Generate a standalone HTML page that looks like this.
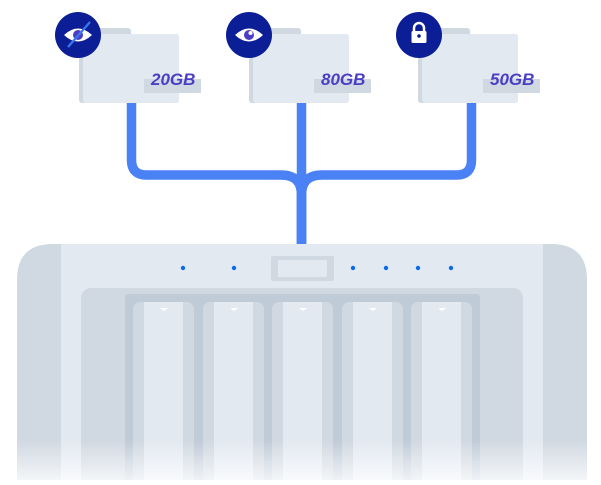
<!DOCTYPE html>
<html><head><style>
html,body{margin:0;padding:0;background:#fff;}
body{width:601px;height:480px;overflow:hidden;position:relative;font-family:"Liberation Sans",sans-serif;}
</style></head><body>
<svg width="601" height="480" viewBox="0 0 601 480" xmlns="http://www.w3.org/2000/svg">
<defs>
<linearGradient id="fade" x1="0" y1="0" x2="0" y2="1">
<stop offset="0" stop-color="#fff" stop-opacity="0"/>
<stop offset="1" stop-color="#fff" stop-opacity="0.75"/>
</linearGradient>
</defs>
<g fill="none" stroke="#4a82f5" stroke-width="9.5">
<path d="M131.5,100 V160 Q131.5,175 146.5,175 H281 Q301.5,175 301.5,195 V246"/>
<path d="M471.5,100 V160 Q471.5,175 456.5,175 H322 Q301.5,175 301.5,195 V246"/>
<path d="M301.5,100 V246"/>
</g>
<path d="M17,280 Q17,244 53,244 H551 Q587,244 587,280 V480 H17 Z" fill="#d0d8e1"/>
<rect x="61" y="244" width="482" height="236" fill="#e3e9f1"/>
<rect x="81" y="288" width="442" height="200" rx="10" fill="#d0d8e1"/>
<rect x="125" y="294" width="355" height="190" rx="3" fill="#c0cbd8"/>
<g fill="#d0d8e1">
<rect x="133" y="302" width="61" height="190" rx="7"/>
<rect x="203" y="302" width="61" height="190" rx="7"/>
<rect x="272" y="302" width="61" height="190" rx="7"/>
<rect x="342" y="302" width="61" height="190" rx="7"/>
<rect x="411" y="302" width="61" height="190" rx="7"/>
</g>
<g fill="#e3e9f1">
<rect x="144" y="302" width="39" height="190"/>
<rect x="214" y="302" width="39" height="190"/>
<rect x="283" y="302" width="39" height="190"/>
<rect x="353" y="302" width="39" height="190"/>
<rect x="422" y="302" width="39" height="190"/>
</g>
<g fill="#fff">
<path d="M160,308 h8 l-4,3z"/><path d="M230,308 h8 l-4,3z"/><path d="M299,308 h8 l-4,3z"/><path d="M369,308 h8 l-4,3z"/><path d="M438,308 h8 l-4,3z"/>
</g>
<rect x="17" y="440" width="570" height="40" fill="url(#fade)"/>
<rect x="271" y="256" width="63" height="25" rx="2" fill="#d0d8e1"/>
<rect x="278" y="260" width="49" height="17" rx="1" fill="#e3e9f1"/>
<g fill="#0a6ae8">
<circle cx="183" cy="268" r="2.2"/><circle cx="234" cy="268" r="2.2"/><circle cx="353" cy="268" r="2.2"/><circle cx="386" cy="268" r="2.2"/><circle cx="418" cy="268" r="2.2"/><circle cx="451" cy="268" r="2.2"/>
</g>
<g id="f">
<rect x="79" y="28" width="52" height="12" rx="3" fill="#d0d8e1"/>
<rect x="79" y="34" width="100" height="69" rx="3" fill="#d0d8e1"/>
<rect x="83" y="34" width="96" height="69" rx="3" fill="#e3e9f1"/>
<rect x="144" y="79" width="57" height="14" fill="#d0d8e1"/>
</g>
<use href="#f" x="170"/>
<use href="#f" x="339"/>
<g font-weight="bold" font-style="italic" font-size="17" fill="#4a3fc4">
<text x="151" y="85">20GB</text>
<text x="321" y="85">80GB</text>
<text x="490" y="85">50GB</text>
</g>
<circle cx="78" cy="35" r="23" fill="#0c1e96"/>
<circle cx="249" cy="35" r="23" fill="#0c1e96"/>
<circle cx="419" cy="35" r="23" fill="#0c1e96"/>
<path d="M64,35 Q78,22 92,35 Q78,48 64,35Z" fill="#fff"/>
<circle cx="78" cy="35" r="5" fill="#4a3fc4"/>
<line x1="68" y1="47" x2="90" y2="22" stroke="#3a78f0" stroke-width="2.2"/>
<path d="M235,35 Q249,22 263,35 Q249,48 235,35Z" fill="#fff"/>
<circle cx="249" cy="35" r="5" fill="#4a3fc4"/>
<circle cx="250.5" cy="33" r="2" fill="#fff"/>
<path d="M414,31 v-3 a5,5 0 0 1 10,0 v3" fill="none" stroke="#fff" stroke-width="2.5"/>
<rect x="411.5" y="31" width="15" height="12" rx="1.5" fill="#fff"/>
<circle cx="419" cy="36" r="1.8" fill="#0c1e96"/>
</svg>
</body></html>
